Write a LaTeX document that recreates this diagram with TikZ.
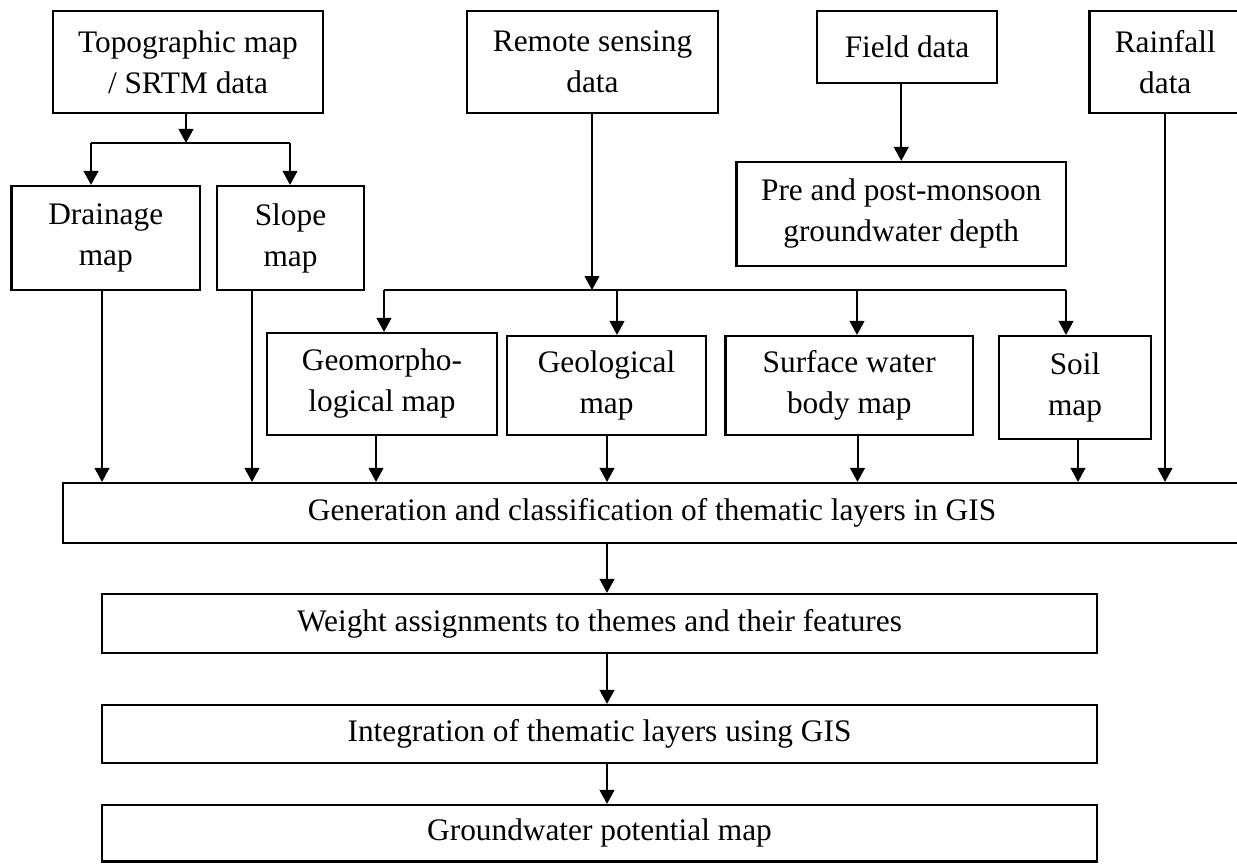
\documentclass[tikz,border=0pt]{standalone}
\usepackage{fontspec}
\setmainfont{Liberation Serif}
\usetikzlibrary{arrows.meta}
\newcommand\mybox[6]{\node[box,minimum width={(#4-#2)*0.75pt},minimum height={(#5-#3)*0.75pt}] (#1) at ({(#2+#4)/2},{(#3+#5)/2}) {#6};}
\begin{document}
\begin{tikzpicture}[x=0.75pt,y=-0.75pt,
 box/.style={draw,line width=1.6pt,inner sep=0pt,align=center,font=\fontsize{23.5}{30.75}\selectfont},
 arr/.style={line width=1.5pt,-{Triangle[length=10.5pt,width=11pt]}},
 ln/.style={line width=1.5pt}]
\clip (0,0) rectangle (1237,863);
\mybox{topo}{53}{11}{323}{113}{Topographic map\\/ SRTM data}
\mybox{remote}{467}{11}{718}{113}{Remote sensing\\data}
\mybox{field}{817}{11}{997}{83}{Field data}
\mybox{rain}{1089.5}{11}{1241}{113}{Rainfall\\data}
\mybox{drain}{11.5}{186}{200}{290}{Drainage\\map}
\mybox{slope}{217}{186}{364}{290}{Slope\\map}
\mybox{pre}{736.5}{162}{1066}{266}{Pre and post-monsoon\\groundwater depth}
\mybox{geom}{267}{333}{497}{435}{Geomorpho-\\logical map}
\mybox{geol}{507}{336}{706}{435}{Geological\\map}
\mybox{surf}{725.5}{336}{973}{435}{Surface water\\body map}
\mybox{soil}{999}{336}{1151}{439}{Soil\\map}
\mybox{gen}{63}{483}{1241}{543}{Generation and classification of thematic layers in GIS}
\mybox{weight}{102}{594}{1097}{653}{Weight assignments to themes and their features}
\mybox{integ}{102}{705}{1097}{763}{Integration of thematic layers using GIS}
\mybox{gw}{102}{805}{1097}{861.5}{Groundwater potential map}
% branch 1
\coordinate (b1) at (186,143);
\coordinate (b1L) at (91,143);
\coordinate (b1R) at (290,143);
\draw[arr] (b1 |- topo.south) -- (b1);
\draw[ln] (b1L) -- (b1R);
\draw[arr] (b1L) -- (b1L |- drain.north);
\draw[arr] (b1R) -- (b1R |- slope.north);
% branch 2
\coordinate (b2) at (592,290);
\coordinate (b2A) at (384,290);
\coordinate (b2B) at (617,290);
\coordinate (b2C) at (857,290);
\coordinate (b2D) at (1066,290);
\draw[arr] (b2 |- remote.south) -- (b2);
\draw[ln] (b2A) -- (b2D);
\draw[arr] (b2A) -- (b2A |- geom.north);
\draw[arr] (b2B) -- (b2B |- geol.north);
\draw[arr] (b2C) -- (b2C |- surf.north);
\draw[arr] (b2D) -- (b2D |- soil.north);
% field
\draw[arr] (pre.north |- field.south) -- (pre.north);
% to generation
\coordinate (o1) at (102,290);
\coordinate (o2) at (252,290);
\coordinate (o3) at (376,435);
\coordinate (o4) at (607,435);
\coordinate (o5) at (857.5,435);
\coordinate (o6) at (1078,439);
\coordinate (o7) at (1165,113);
\draw[arr] (o1 |- drain.south) -- (o1 |- gen.north);
\draw[arr] (o2 |- slope.south) -- (o2 |- gen.north);
\draw[arr] (o3 |- geom.south) -- (o3 |- gen.north);
\draw[arr] (o4 |- geol.south) -- (o4 |- gen.north);
\draw[arr] (o5 |- surf.south) -- (o5 |- gen.north);
\draw[arr] (o6 |- soil.south) -- (o6 |- gen.north);
\draw[arr] (o7 |- rain.south) -- (o7 |- gen.north);
% lower chain
\coordinate (c) at (607,0);
\draw[arr] (c |- gen.south) -- (c |- weight.north);
\draw[arr] (c |- weight.south) -- (c |- integ.north);
\draw[arr] (c |- integ.south) -- (c |- gw.north);
\end{tikzpicture}
\end{document}
